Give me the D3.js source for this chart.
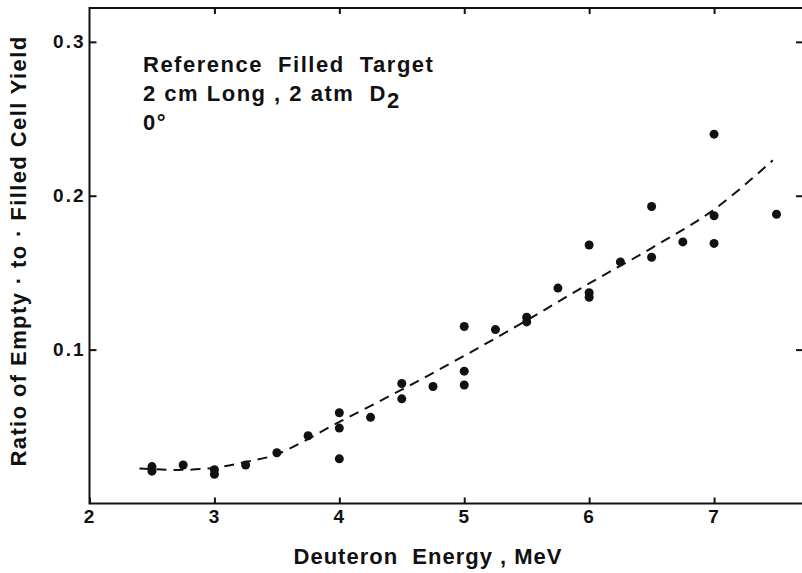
<!DOCTYPE html>
<html>
<head>
<meta charset="utf-8">
<script src="https://cdn.jsdelivr.net/npm/d3@7"></script>
<style>
  body { margin: 0; background: #fff; }
  svg { display: block; }
  text { font-family: "Liberation Sans", Arial, Helvetica, sans-serif; font-weight: bold; fill: #111; white-space: pre; }
</style>
</head>
<body>
<svg id="chart" width="802" height="573"></svg>
<script>
// Measured ratio of empty-cell to filled-cell yield vs deuteron energy (MeV)
const energies = [2.5, 2.5, 2.75, 3, 3, 3.25, 3.5, 3.75, 4, 4, 4, 4.25, 4.5, 4.5, 4.75,
                  5, 5, 5, 5.25, 5.5, 5.5, 5.75, 6, 6, 6, 6.25, 6.5, 6.5, 6.75, 7, 7, 7, 7.5];
const ratios   = [0.024, 0.021, 0.025, 0.022, 0.019, 0.025, 0.033, 0.044, 0.059, 0.049, 0.029, 0.056, 0.078, 0.068, 0.076,
                  0.115, 0.086, 0.077, 0.113, 0.121, 0.118, 0.140, 0.168, 0.137, 0.134, 0.157, 0.193, 0.160, 0.170, 0.240, 0.187, 0.169, 0.188];

// Smooth trend drawn through the data (dashed)
const fitEnergies = [2.4, 2.7, 3.0, 3.25, 3.5, 4.0, 4.5, 5.0, 5.5, 6.0, 6.5, 7.0, 7.47];
const fitRatios   = [0.0228, 0.0218, 0.0232, 0.027, 0.032, 0.053, 0.074, 0.096, 0.119, 0.143, 0.166, 0.191, 0.223];

const xTicks = [2, 3, 4, 5, 6, 7];
const yTicks = [0.1, 0.2, 0.3];

const annotationLines = ["Reference  Filled  Target", "2 cm Long , 2 atm  D", "0°"];

const svg = d3.select("#chart");

const plotLeft = 89.5, plotRight = 804, plotTop = 8, plotBottom = 503.5;
const x = d3.scaleLinear().domain([2, 7.72]).range([plotLeft, plotRight]);
const y = d3.scaleLinear().domain([0, 0.322]).range([plotBottom, plotTop]);

// Frame
svg.append("path")
  .attr("d", `M802,${plotTop}H${plotLeft}V${plotBottom}H802`)
  .attr("stroke", "#111").attr("stroke-width", 2).attr("fill", "none");

// Axes with inward ticks
const axBottom = svg.append("g").attr("transform", `translate(0,${plotBottom})`)
  .call(d3.axisBottom(x).tickValues(xTicks).tickFormat(d3.format("d")).tickSize(-6).tickPadding(6));
const axLeft = svg.append("g").attr("transform", `translate(${plotLeft},0)`)
  .call(d3.axisLeft(y).tickValues(yTicks).tickFormat(d3.format(".1f")).tickSize(-7).tickPadding(4));
const axTop = svg.append("g").attr("transform", `translate(0,${plotTop})`)
  .call(d3.axisTop(x).tickValues(xTicks.slice(1)).tickFormat("").tickSize(-6));
const axRight = svg.append("g").attr("transform", "translate(803,0)")
  .call(d3.axisRight(y).tickValues(yTicks).tickFormat("").tickSize(-7));

[axBottom, axLeft, axTop, axRight].forEach(g => {
  g.select(".domain").remove();
  g.selectAll(".tick line").attr("stroke", "#111").attr("stroke-width", 2);
  g.selectAll(".tick text").attr("font-size", 19).attr("font-weight", "bold")
    .attr("font-family", "'Liberation Sans', Arial, sans-serif").attr("fill", "#111")
    .style("letter-spacing", "2px");
});

// Dashed trend curve
const fitData = fitEnergies.map((e, i) => [e, fitRatios[i]]);
svg.append("path")
  .datum(fitData)
  .attr("fill", "none")
  .attr("stroke", "#111")
  .attr("stroke-width", 2)
  .attr("stroke-dasharray", "10,7")
  .attr("d", d3.line().x(d => x(d[0])).y(d => y(d[1])).curve(d3.curveCatmullRom));

// Data points
svg.append("g").selectAll("circle")
  .data(energies.map((e, i) => [e, ratios[i]]))
  .join("circle")
  .attr("cx", d => x(d[0]))
  .attr("cy", d => y(d[1]))
  .attr("r", 4.5)
  .attr("fill", "#111");

// Annotation block
const note = svg.append("g").attr("font-size", 22).style("letter-spacing", "1.5px");
note.append("text").attr("x", 143).attr("y", 72).text(annotationLines[0]);
const l2 = note.append("text").attr("x", 143).attr("y", 101).text(annotationLines[1]);
l2.append("tspan").attr("dy", 7).text("2");
note.append("text").attr("x", 143).attr("y", 130).text(annotationLines[2]);

// Axis titles
svg.append("text")
  .attr("x", 428).attr("y", 564)
  .attr("text-anchor", "middle")
  .attr("font-size", 22)
  .style("letter-spacing", "1px")
  .text("Deuteron  Energy , MeV");

svg.append("text")
  .attr("transform", "translate(26,251) rotate(-90)")
  .attr("text-anchor", "middle")
  .attr("font-size", 22)
  .style("letter-spacing", "1.4px")
  .text("Ratio of Empty · to · Filled Cell Yield");
</script>
</body>
</html>
